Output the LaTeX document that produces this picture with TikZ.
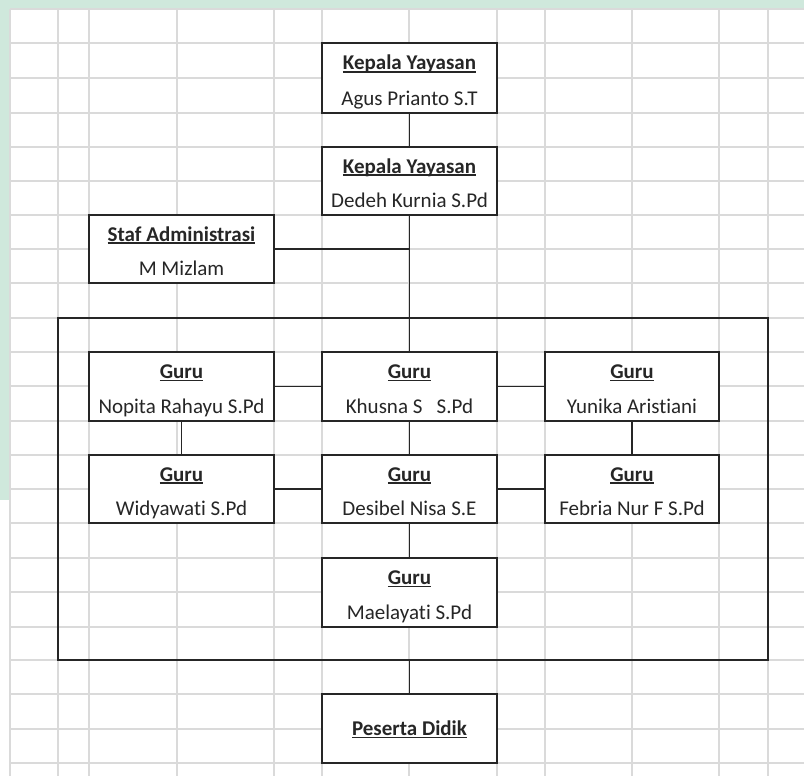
\documentclass[tikz,border=0pt]{standalone}
\usepackage{fontspec}
\setmainfont{Carlito}[RawFeature=-liga]
\usepackage{tikz}
\usetikzlibrary{positioning,calc}

\definecolor{gridgray}{HTML}{DADADA}
\definecolor{mint}{HTML}{CFE8DC}
\newsavebox\jabbox
\newcommand{\jab}[1]{\sbox\jabbox{\textbf{#1}}\rlap{\usebox\jabbox}\rule[-2.8pt]{\wd\jabbox}{1.4pt}}

\begin{document}
\begin{tikzpicture}[
  x=1pt,y=-1pt,
  box/.style={rectangle,draw=black!85,line width=1.9pt,fill=white,inner sep=0pt},
  mid/.style={box,minimum width=175pt,minimum height=69pt},
  lft/.style={box,minimum width=185pt,minimum height=68pt},
  rgt/.style={box,minimum width=174pt,minimum height=68pt},
  txt/.style={anchor=base,inner sep=0pt,text=black!85,font=\fontsize{21}{25}\selectfont},
  conn/.style={draw=black!85,line width=1.7pt}
]
\useasboundingbox (0,0) rectangle (804,776);
% background and sheet grid
\fill[mint] (0,0) rectangle (804,9);
\fill[mint] (0,0) rectangle (10,500);
\foreach \gx in {10,58,89,177,274,322,409,497,545,632,719,768}
  \draw[gridgray,line width=1.2pt] (\gx,9) -- (\gx,776);
\foreach \gy in {9,43,78,113,147,181,215,249,283,318,352,386,421,455,489,523,558,592,627,660,694,729,763}
  \draw[gridgray,line width=1.2pt] (10,\gy) -- (804,\gy);

% group frame for the teachers
\node[rectangle,draw=black!85,line width=1.7pt,minimum width=710pt,minimum height=342pt,inner sep=0pt] (grp) at (413,489) {};

% boxes
\node[mid,minimum height=70pt] (kep1) at (409.5,78) {};
\node[mid,minimum height=68pt] (kep2) at (409.5,181) {};
\node[lft] (staf) at (181.5,249) {};
\node[lft,minimum height=69pt] (nop) at (181.5,386.5) {};
\node[mid] (khu) at (409.5,386.5) {};
\node[rgt,minimum height=69pt] (yun) at (632,386.5) {};
\node[lft] (wid) at (181.5,489) {};
\node[mid,minimum height=68pt] (des) at (409.5,489) {};
\node[rgt] (feb) at (632,489) {};
\node[mid] (mae) at (409.5,592.5) {};
\node[mid] (pes) at (409.5,728.5) {};

% texts
\node[txt] (kep1t) at ([yshift=8pt]kep1.center) {\jab{Kepala Yayasan}};
\node[txt] (kep1n) at ([yshift=8pt]kep1.south) {Agus Prianto S.T};
\node[txt] (kep2t) at ([yshift=8pt]kep2.center) {\jab{Kepala Yayasan}};
\node[txt] (kep2n) at ([yshift=8pt]kep2.south) {Dedeh Kurnia S.Pd};
\node[txt] (staft) at ([yshift=8pt]staf.center) {\jab{Staf Administrasi}};
\node[txt] (stafn) at ([yshift=8pt]staf.south) {M Mizlam};
\node[txt] (nopt) at ([yshift=8pt]nop.center) {\jab{Guru}};
\node[txt] (nopn) at ([yshift=8pt]nop.south) {Nopita Rahayu S.Pd};
\node[txt] (khut) at ([yshift=8pt]khu.center) {\jab{Guru}};
\node[txt] (khun) at ([yshift=8pt]khu.south) {Khusna S\ \ \ S.Pd};
\node[txt] (yunt) at ([yshift=8pt]yun.center) {\jab{Guru}};
\node[txt] (yunn) at ([yshift=8pt]yun.south) {Yunika Aristiani};
\node[txt] (widt) at ([yshift=8pt]wid.center) {\jab{Guru}};
\node[txt] (widn) at ([yshift=8pt]wid.south) {Widyawati S.Pd};
\node[txt] (dest) at ([yshift=8pt]des.center) {\jab{Guru}};
\node[txt] (desn) at ([yshift=8pt]des.south) {Desibel Nisa S.E};
\node[txt] (febt) at ([yshift=8pt]feb.center) {\jab{Guru}};
\node[txt] (febn) at ([yshift=8pt]feb.south) {Febria Nur F S.Pd};
\node[txt] (maet) at ([yshift=8pt]mae.center) {\jab{Guru}};
\node[txt] (maen) at ([yshift=8pt]mae.south) {Maelayati S.Pd};
\node[txt] (pest) at ([yshift=-7pt]pes.center) {\jab{Peserta Didik}};

% connectors
\draw[conn] (kep1) -- (kep2);
\draw[conn] (kep2.south) -- (kep2.south |- grp.north);
\draw[conn] (staf.east) -- (staf.east -| kep2.south);
\draw[conn] (khu.north |- grp.north) -- (khu.north);
\draw[conn] (nop) -- (khu);
\draw[conn] (khu) -- (yun);
\draw[conn] (nop) -- (wid);
\draw[conn] (khu) -- (des);
\draw[conn] (yun) -- (feb);
\draw[conn] (wid) -- (des);
\draw[conn] (des) -- (feb);
\draw[conn] (des) -- (mae);
\draw[conn] (pes.north |- grp.south) -- (pes.north);
\end{tikzpicture}
\end{document}
